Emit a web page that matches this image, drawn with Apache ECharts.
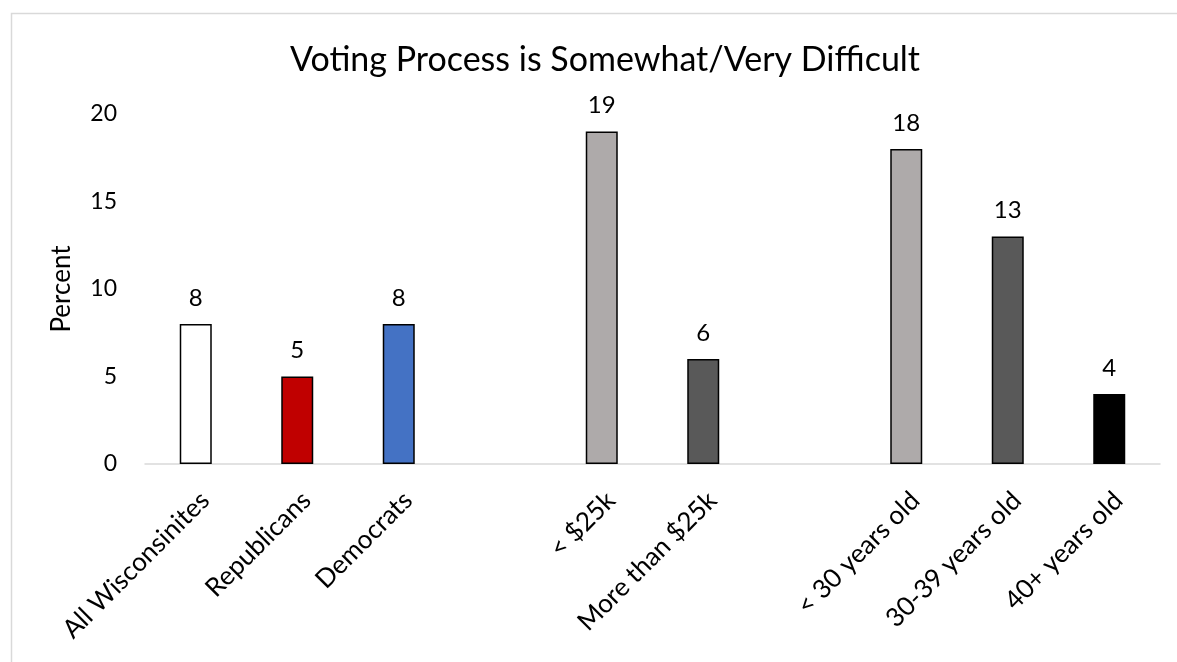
<!DOCTYPE html>
<html>
<head>
<meta charset="utf-8">
<title>Voting Process is Somewhat/Very Difficult</title>
<script src="https://cdn.jsdelivr.net/npm/echarts@6/dist/echarts.min.js"></script>
<style>
  html, body { margin: 0; padding: 0; background: #ffffff; }
  #chart { width: 1177px; height: 662px; }
</style>
</head>
<body>
<div id="chart"></div>
<script>
// Groups are separated by empty category slots.
const categories = [
  'All Wisconsinites', 'Republicans', 'Democrats', '',
  '< $25k', 'More than $25k', '',
  '< 30 years old', '30-39 years old', '40+ years old'
];
const percentValues = [8, 5, 8, null, 19, 6, null, 18, 13, 4];
const yTicks = [0, 5, 10, 15, 20];

// Fill colour per category slot.
const barColors = [
  '#ffffff', '#c00000', '#4472c4', '#ffffff',
  '#aeaaaa', '#595959', '#ffffff',
  '#aeaaaa', '#595959', '#000000'
];

const FONT = 'Lato, "Open Sans", sans-serif';

const chart = echarts.init(document.getElementById('chart'), null, { renderer: 'canvas' });

chart.setOption({
  backgroundColor: '#ffffff',
  animation: false,
  title: {
    text: 'Voting Process is Somewhat/Very Difficult',
    left: 600,
    top: 38,
    textAlign: 'center',
    textStyle: { fontFamily: FONT, fontSize: 34, fontWeight: 'normal', color: '#000000' }
  },
  graphic: [{
    type: 'rect',
    shape: { x: 11.5, y: 13.5, width: 1300, height: 800 },
    style: { fill: 'none', stroke: '#d9d9d9', lineWidth: 1.5 },
    silent: true,
    z: -1
  }],
  grid: { left: 145, right: 17, top: 114, bottom: 198, containLabel: false },
  xAxis: {
    type: 'category',
    data: categories,
    axisLine: { show: true, lineStyle: { color: '#d9d9d9', width: 1.5 } },
    axisTick: { show: false },
    axisLabel: {
      interval: 0,
      rotate: 45,
      margin: 23,
      verticalAlign: 'top',
      fontFamily: FONT,
      fontSize: 26,
      color: '#000000'
    },
    splitLine: { show: false }
  },
  yAxis: {
    type: 'value',
    min: yTicks[0],
    max: yTicks[yTicks.length - 1],
    interval: yTicks[1] - yTicks[0],
    name: 'Percent',
    nameLocation: 'middle',
    nameGap: 70,
    nameTextStyle: { fontFamily: FONT, fontSize: 26, color: '#000000' },
    axisLine: { show: false },
    axisTick: { show: false },
    splitLine: { show: false },
    axisLabel: { margin: 28, fontFamily: FONT, fontSize: 23, color: '#000000' }
  },
  series: [{
    type: 'bar',
    barWidth: 32,
    data: percentValues.map((v, i) => ({
      value: v === null ? '-' : v,
      itemStyle: { color: barColors[i] }
    })),
    itemStyle: { borderColor: '#000000', borderWidth: 1.5 },
    label: {
      show: true,
      position: 'top',
      distance: 14,
      fontFamily: FONT,
      fontSize: 24,
      color: '#000000'
    }
  }]
});
</script>
</body>
</html>
